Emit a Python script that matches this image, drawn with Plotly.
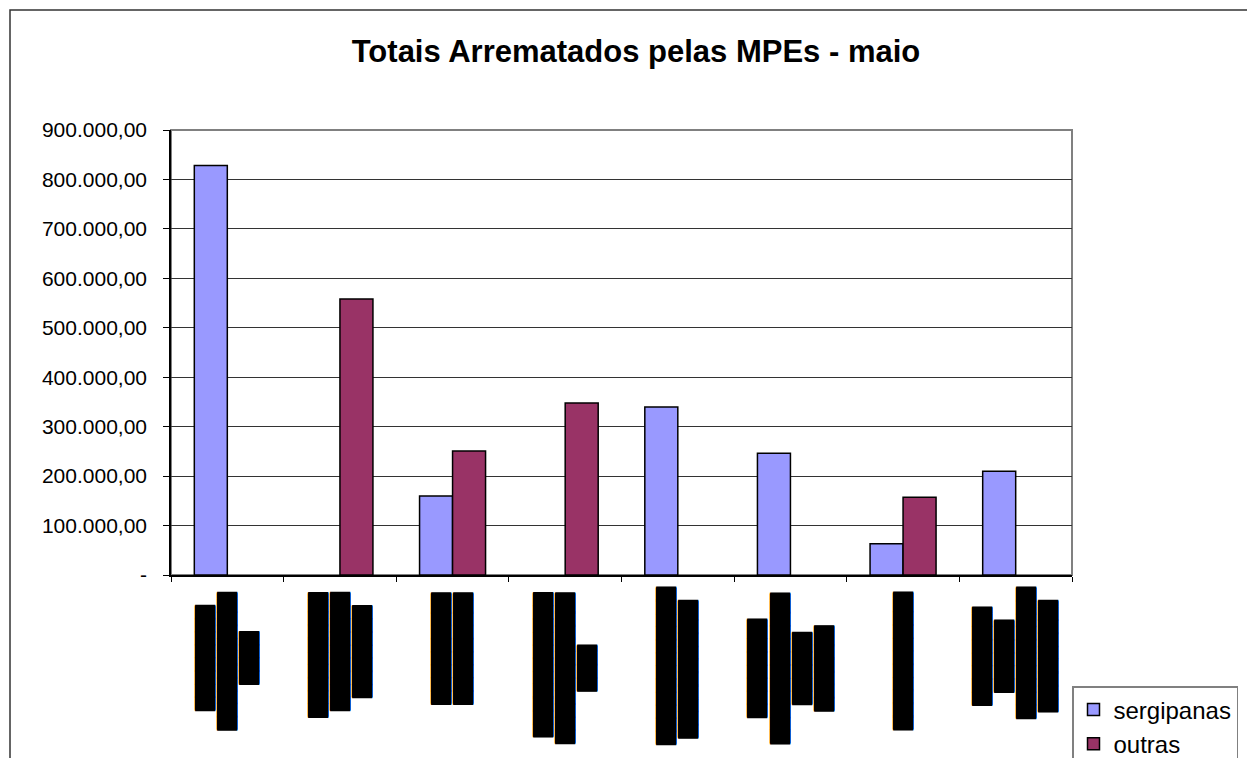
import plotly.graph_objects as go

categories = ["c1", "c2", "c3", "c4", "c5", "c6", "c7", "c8"]
sergipanas = [828000, None, 160000, None, 340000, 246000, 63000, 210000]
outras = [None, 558000, 251000, 348000, None, None, 157000, None]
ytick_vals = [0, 100000, 200000, 300000, 400000, 500000, 600000, 700000, 800000, 900000]
ytick_text = ["-", "100.000,00", "200.000,00", "300.000,00", "400.000,00",
              "500.000,00", "600.000,00", "700.000,00", "800.000,00", "900.000,00"]
# category labels (obscured vertical text, rendered as solid blocks)
cat_labels = [
    "████████<br>██████████▌<br>████",
    "█████████▌<br>█████████<br>███████",
    "████████▌<br>████████▌",
    "███████████<br>███████████▌<br>███▌",
    "████████████<br>██████████▌",
    "███████▌<br>███████████▌<br>█████▌<br>██████▌",
    "██████████▌",
    "███████▌<br>█████▌<br>██████████<br>████████▌",
]

fig = go.Figure()
fig.add_trace(go.Bar(name="sergipanas", x=categories, y=sergipanas,
                     marker=dict(color="#9999FF", line=dict(color="black", width=1.5))))
fig.add_trace(go.Bar(name="outras", x=categories, y=outras,
                     marker=dict(color="#993366", line=dict(color="black", width=1.5))))

for c, lab in zip(categories, cat_labels):
    fig.add_annotation(x=c, y=0, xref="x", yref="paper", text=lab, textangle=-90,
                       showarrow=False, yanchor="top", xanchor="center", align="center",
                       yshift=-9,
                       font=dict(family="DejaVu Sans", size=17, color="black",
                                 shadow="0.7px 0px 0px #000, -0.7px 0px 0px #000"))

W, H = 1247, 758
L, R, T, Bm = 171, 175, 130, 183
pw, ph = W - L - R, H - T - Bm
fig.add_shape(type="rect", xref="paper", yref="paper", x0=0, x1=1, y0=0, y1=1,
              line=dict(color="#808080", width=2), layer="between")
fig.add_shape(type="rect", xref="paper", yref="paper",
              x0=(10 - L) / pw, x1=(1270 - L) / pw, y0=-(780 - (H - Bm)) / ph, y1=((H - Bm) - 10) / ph,
              line=dict(color="#333333", width=1.5), layer="above")

fig.update_layout(
    width=W, height=H,
    margin=dict(l=L, r=R, t=T, b=Bm, autoexpand=False),
    paper_bgcolor="white", plot_bgcolor="white",
    barmode="group", bargap=0.414, bargroupgap=0,
    title=dict(text="<b>Totais Arrematados pelas MPEs - maio</b>", x=636 / W, xanchor="center",
               xref="container", y=1 - 51 / H, yanchor="middle",
               font=dict(family="Liberation Sans", size=31, color="black")),
    font=dict(family="Liberation Sans", size=21, color="black"),
    xaxis=dict(showticklabels=False, ticks="outside", ticklen=5, tickcolor="black",
               tickson="boundaries", showline=True, linecolor="black", linewidth=1.5,
               showgrid=False),
    yaxis=dict(range=[0, 900000], tickvals=ytick_vals, ticktext=ytick_text,
               ticks="outside", ticklen=6, tickcolor="black", showline=True,
               linecolor="black", linewidth=1.5, gridcolor="#333333", gridwidth=1,
               ticklabelstandoff=12, zeroline=False,
               tickfont=dict(family="Liberation Sans", size=21, color="black")),
    legend=dict(x=1, xanchor="left", y=-(686 - (H - Bm)) / ph, yanchor="top",
                bordercolor="#808080", borderwidth=1.5, bgcolor="white",
                font=dict(family="Liberation Sans", size=24, color="black"),
                traceorder="grouped", tracegroupgap=6, itemwidth=30),
)
fig.write_html("out.html", config={"displayModeBar": False},
               post_script="document.body.style.margin='0';")
